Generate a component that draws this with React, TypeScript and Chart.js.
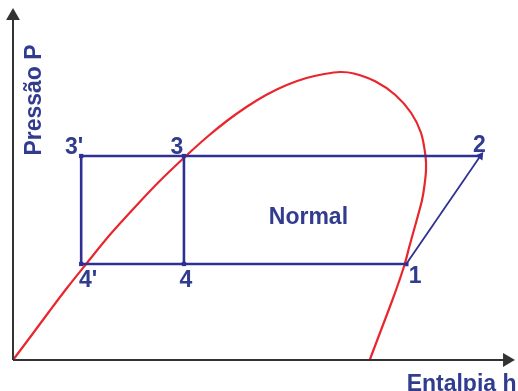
import React, { useEffect, useRef } from "react";
import { Chart, registerables } from "chart.js";

Chart.register(...registerables);

// Saturation dome (enthalpy h, pressure P) in arbitrary diagram units
const domeEnthalpy = [0, 19, 37, 55, 74, 97, 124, 148, 175, 197, 217, 237, 257, 277, 297, 315, 331, 345, 367, 387, 403, 413, 417.5, 418, 416.5, 414, 410, 405.8, 401, 396.5, 390.5, 384, 372.5, 361];
const domePressure = [0, 25, 49, 72.5, 96, 124, 153.5, 178.5, 204, 223.5, 239.5, 253.5, 265.5, 275, 282, 286, 288, 286.5, 278.5, 265, 247, 227, 204, 190, 175, 160, 145, 130, 113, 96, 78, 60, 30, 0];

// Refrigeration cycle state points
const cycleNames = ["3'", "3", "2", "1", "4'", "4"];
const cycleEnthalpy = [69, 173, 473, 398, 69, 173];
const cyclePressure = [204, 204, 204, 96, 96, 96];

// Axis ranges
const hMax = 503;
const pMax = 350;

const regionLabel = "Normal";
const regionEnthalpy = 299;
const regionPressure = 136;

const xAxisTitle = "Entalpia h";
const xAxisTitleAt = 454;
const yAxisTitle = "Pressão P";

const BLUE = "#2e3192";
const TEXT_BLUE = "#323c8e";
const RED = "#e8262c";
const AXIS = "#333333";
const FONT = 'bold 23px "Liberation Sans", Arial, sans-serif';

// label offsets in pixels (dx, dy to text baseline centre)
const labelOffsets: Record<string, [number, number]> = {
  "3'": [-7, -2],
  "3": [-7, -2],
  "2": [-1, -4],
  "1": [9, 19],
  "4'": [7, 23],
  "4": [2, 23],
};

export default function App() {
  const ref = useRef<HTMLCanvasElement | null>(null);

  useEffect(() => {
    if (!ref.current) return;
    const pt = (i: number) => ({ x: cycleEnthalpy[i], y: cyclePressure[i] });
    const gap = { x: NaN, y: NaN };
    // 3' -> 2 (top), 1 -> 4' -> 3' (bottom + left), 3 -> 4 (middle)
    const cycleRect = [pt(0), pt(2), gap, pt(3), pt(4), pt(0), gap, pt(1), pt(5)];
    const diagonal = [pt(3), pt(2)];

    const labelPlugin = {
      id: "labels",
      afterDatasetsDraw(chart: any) {
        const ctx = chart.ctx as CanvasRenderingContext2D;
        const xs = chart.scales.x;
        const ys = chart.scales.y;
        ctx.save();
        ctx.font = FONT;
        ctx.fillStyle = TEXT_BLUE;
        ctx.textAlign = "center";
        ctx.textBaseline = "alphabetic";
        cycleNames.forEach((n, i) => {
          const off = labelOffsets[n] || [0, 0];
          ctx.fillText(n, xs.getPixelForValue(cycleEnthalpy[i]) + off[0], ys.getPixelForValue(cyclePressure[i]) + off[1]);
        });
        ctx.fillText(regionLabel, xs.getPixelForValue(regionEnthalpy), ys.getPixelForValue(regionPressure));
        ctx.fillText(xAxisTitle, xs.getPixelForValue(xAxisTitleAt), chart.chartArea.bottom + 31);
        ctx.translate(chart.chartArea.left + 28, 100);
        ctx.rotate(-Math.PI / 2);
        ctx.fillText(yAxisTitle, 0, 0);
        ctx.restore();
      },
    };

    const chart = new Chart(ref.current, {
      type: "line",
      data: {
        datasets: [
          {
            data: [{ x: 0, y: 0 }, { x: 0, y: pMax - 6 }],
            borderColor: AXIS,
            backgroundColor: AXIS,
            borderWidth: 2,
            pointRadius: [0, 6],
            pointStyle: "triangle",
            pointRotation: 0,
            clip: false,
          } as any,
          {
            data: [{ x: 0, y: 0 }, { x: hMax - 3, y: 0 }],
            borderColor: AXIS,
            backgroundColor: AXIS,
            borderWidth: 2,
            pointRadius: [0, 6],
            pointStyle: "triangle",
            pointRotation: 90,
            clip: false,
          } as any,
          {
            data: cycleRect,
            borderColor: BLUE,
            borderWidth: 2.6,
            pointRadius: 0,
            spanGaps: false,
            tension: 0,
            clip: false,
          } as any,
          {
            data: diagonal,
            borderColor: BLUE,
            borderWidth: 1.8,
            pointRadius: 0,
            tension: 0,
            clip: false,
          } as any,
          {
            data: domeEnthalpy.map((h, i) => ({ x: h, y: domePressure[i] })),
            borderColor: RED,
            borderWidth: 2.2,
            pointRadius: 0,
            tension: 0.3,
            clip: false,
          } as any,
          {
            type: "scatter",
            data: cycleNames.map((_, i) => pt(i)),
            backgroundColor: BLUE,
            borderColor: BLUE,
            borderWidth: 0,
            pointStyle: ["rect", "rect", "triangle", "rect", "rect", "rect"],
            pointRotation: [0, 0, 35, 0, 0, 0],
            pointRadius: [3, 3, 5, 3.2, 3, 3],
            clip: false,
          } as any,
        ],
      },
      options: {
        animation: false,
        responsive: false,
        layout: { padding: { left: 13, right: 2, top: 10, bottom: 31 } },
        scales: {
          x: { type: "linear", min: 0, max: hMax, display: false },
          y: { type: "linear", min: 0, max: pMax, display: false },
        },
        plugins: { legend: { display: false }, tooltip: { enabled: false } },
      },
      plugins: [labelPlugin],
    });
    return () => chart.destroy();
  }, []);

  return (
    <div style={{ position: "fixed", left: 0, top: 0, width: 518, height: 391, background: "#fff" }}>
      <canvas ref={ref} width={518} height={391} />
    </div>
  );
}
